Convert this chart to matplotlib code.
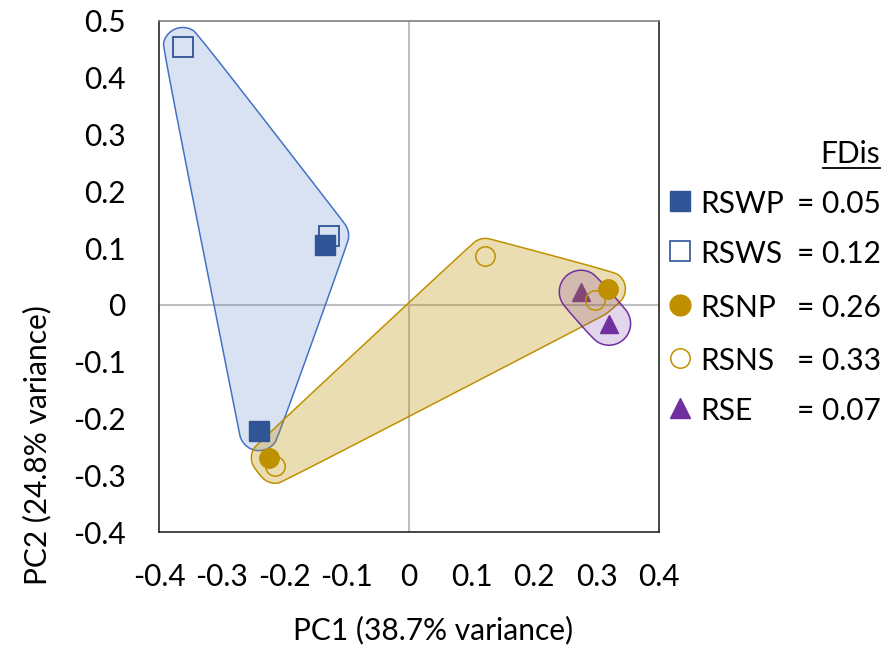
import numpy as np
import matplotlib
matplotlib.use('Agg')
import matplotlib.pyplot as plt
from matplotlib.lines import Line2D
from matplotlib.patches import Polygon

plt.rcParams['font.family'] = ['Lato', 'DejaVu Sans']

# ---- data ----
rswp_x = [-0.134, -0.240]
rswp_y = [0.105, -0.222]
rsws_x = [-0.362, -0.128]
rsws_y = [0.454, 0.122]
rsnp_x = [-0.224, 0.318]
rsnp_y = [-0.269, 0.028]
rsns_x = [-0.214, 0.122, 0.298]
rsns_y = [-0.283, 0.086, 0.009]
rse_x = [0.275, 0.320]
rse_y = [0.023, -0.033]

groups = ['RSWP', 'RSWS', 'RSNP', 'RSNS', 'RSE']
fdis = [0.05, 0.12, 0.26, 0.33, 0.07]
xticks = [-0.4, -0.3, -0.2, -0.1, 0, 0.1, 0.2, 0.3, 0.4]
yticks = [-0.4, -0.3, -0.2, -0.1, 0, 0.1, 0.2, 0.3, 0.4, 0.5]

W, H = 888, 648
fig = plt.figure(figsize=(W / 100, H / 100), dpi=100)
L, R, T, B = 159, 659, 21, 532
ax = fig.add_axes([L / W, 1 - B / H, (R - L) / W, (B - T) / H])
ax.set_xlim(-0.4, 0.4)
ax.set_ylim(-0.4, 0.5)

FS = 21.5
ax.set_xticks(xticks)
ax.set_yticks(yticks)
ax.set_xticklabels(['0' if v == 0 else f'{v:.1f}' for v in xticks], fontsize=FS)
ax.set_yticklabels(['0' if v == 0 else f'{v:.1f}' for v in yticks], fontsize=FS)
ax.tick_params(axis='x', length=0, pad=22)
ax.tick_params(axis='y', length=0, pad=24)

for s in ['left', 'bottom', 'right']:
    ax.spines[s].set_color('#262626')
    ax.spines[s].set_linewidth(1.2)
ax.spines['top'].set_color('#808080')
ax.spines['top'].set_linewidth(1.2)

ax.axhline(0, color='#BFBFBF', lw=1.5, zorder=0.5)
ax.axvline(0, color='#BFBFBF', lw=1.5, zorder=0.5)


# ---- hull helpers (computed from the data via the axes transform) ----
def convex_hull(pts):
    pts = sorted(map(tuple, pts))
    def cross(o, a, b):
        return (a[0] - o[0]) * (b[1] - o[1]) - (a[1] - o[1]) * (b[0] - o[0])
    lower, upper = [], []
    for p in pts:
        while len(lower) >= 2 and cross(lower[-2], lower[-1], p) <= 0:
            lower.pop()
        lower.append(p)
    for p in reversed(pts):
        while len(upper) >= 2 and cross(upper[-2], upper[-1], p) <= 0:
            upper.pop()
        upper.append(p)
    return np.array(lower[:-1] + upper[:-1])


def chaikin(poly, n=3):
    for _ in range(n):
        nxt = np.roll(poly, -1, axis=0)
        q = 0.75 * poly + 0.25 * nxt
        r = 0.25 * poly + 0.75 * nxt
        poly = np.empty((2 * len(poly), 2))
        poly[0::2] = q
        poly[1::2] = r
    return poly


def hull_patch(xs, ys, radius, **kw):
    disp = ax.transData.transform(np.column_stack([xs, ys]))
    t = np.linspace(0, 2 * np.pi, 16, endpoint=False)
    circ = np.column_stack([np.cos(t), np.sin(t)]) * radius
    allp = (disp[:, None, :] + circ[None, :, :]).reshape(-1, 2)
    hull = convex_hull(allp)
    hull = chaikin(hull, 4)
    data = ax.transData.inverted().transform(hull)
    p = Polygon(data, closed=True, **kw)
    ax.add_patch(p)
    return p


BLUE = '#2F5597'
BLUE_E = '#4472C4'
GOLD = '#BF9000'
PURP = '#7030A0'

hull_patch(rswp_x + rsws_x, rswp_y + rsws_y, 20,
           facecolor=(68 / 255, 114 / 255, 196 / 255, 0.2), edgecolor=BLUE_E, lw=1.1, zorder=1)

ax.plot(rse_x, rse_y, ls='none', marker='^', ms=13, color=PURP, zorder=1.5)

hull_patch(rsnp_x + rsns_x, rsnp_y + rsns_y, 18,
           facecolor=(191 / 255, 144 / 255, 0, 0.3), edgecolor=GOLD, lw=1.1, zorder=2)
hull_patch(rse_x, rse_y, 22,
           facecolor=(112 / 255, 48 / 255, 160 / 255, 0.2), edgecolor=PURP, lw=1.1, zorder=2.5)

ax.plot(rsws_x, rsws_y, ls='none', marker='s', ms=14, mfc='none', mec=BLUE, mew=1.3, zorder=3)
ax.plot(rswp_x, rswp_y, ls='none', marker='s', ms=14, color=BLUE, zorder=3.1)
ax.plot(rsns_x, rsns_y, ls='none', marker='o', ms=14, mfc='none', mec=GOLD, mew=1.1, zorder=3)
ax.plot(rsnp_x, rsnp_y, ls='none', marker='o', ms=14, color=GOLD, zorder=3.1)

# ---- axis labels ----
fig.text(433 / W, 1 - 639 / H, 'PC1 (38.7% variance)', fontsize=FS,
         ha='center', va='baseline')
fig.text(37 / W, 1 - 305 / H, 'PC2 (24.8% variance)', fontsize=FS,
         ha='right', va='center', rotation=90, rotation_mode='anchor')

# ---- legend (manual, figure coords) ----
marker_styles = [
    dict(marker='s', ms=15, mfc=BLUE, mec=BLUE),
    dict(marker='s', ms=14, mfc='white', mec=BLUE, mew=1.2),
    dict(marker='o', ms=15, mfc=GOLD, mec=GOLD),
    dict(marker='o', ms=14, mfc='white', mec=GOLD, mew=1.1),
    dict(marker='^', ms=15, mfc=PURP, mec=PURP),
]
baselines = [213, 263, 317, 370, 420]
fig.text(880 / W, 1 - 163 / H, 'FDis', fontsize=FS, ha='right', va='baseline')
fig.add_artist(Line2D([823 / W, 880 / W], [1 - 168 / H, 1 - 168 / H],
                      transform=fig.transFigure, color='black', lw=1.3))
for g, v, bl, st in zip(groups, fdis, baselines, marker_styles):
    fig.add_artist(Line2D([680 / W], [1 - (bl - 12) / H], transform=fig.transFigure,
                          ls='none', **st))
    fig.text(700 / W, 1 - bl / H, g, fontsize=FS, ha='left', va='baseline')
    fig.text(881 / W, 1 - bl / H, f'= {v:.2f}', fontsize=FS, ha='right', va='baseline')

fig.savefig('out.png', dpi=100)
